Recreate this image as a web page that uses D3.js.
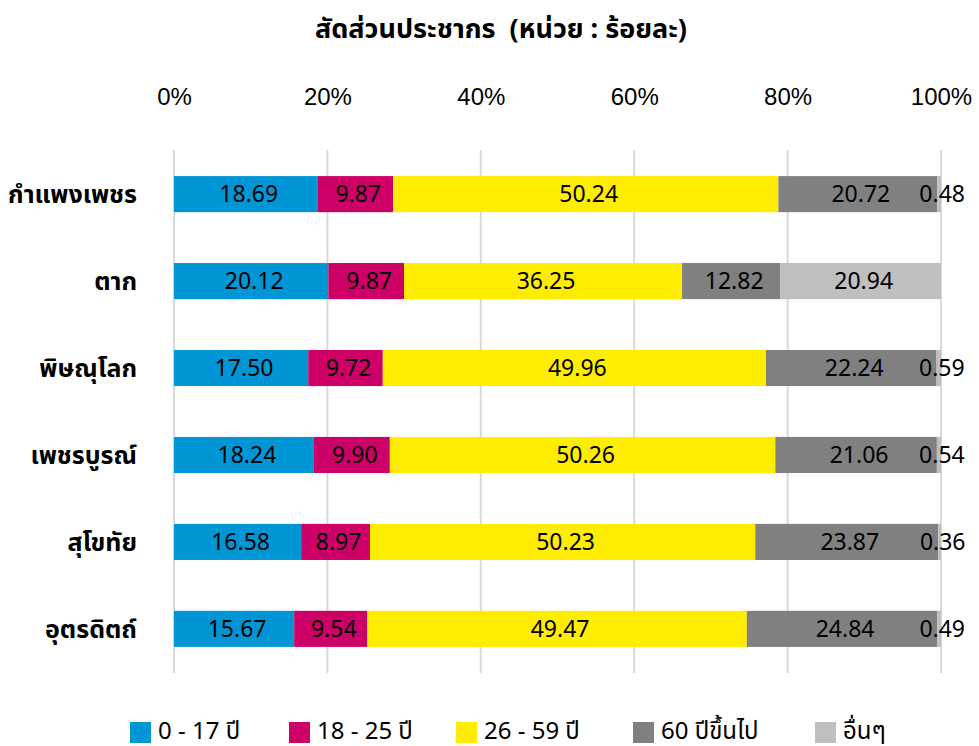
<!DOCTYPE html>
<html>
<head>
<meta charset="utf-8">
<script src="https://cdn.jsdelivr.net/npm/d3@7"></script>
<style>
  body { margin: 0; background: #fff; }
  svg { font-family: "Noto Sans", "Noto Sans Thai", "DejaVu Sans", sans-serif; }
</style>
</head>
<body>
<div id="chart"></div>
<script>
const provinces = ["กำแพงเพชร", "ตาก", "พิษณุโลก", "เพชรบูรณ์", "สุโขทัย", "อุตรดิตถ์"];
const groups = ["0 - 17 ปี", "18 - 25 ปี", "26 - 59 ปี", "60 ปีขึ้นไป", "อื่นๆ"];
const age0to17 = [18.69, 20.12, 17.50, 18.24, 16.58, 15.67];
const age18to25 = [9.87, 9.87, 9.72, 9.90, 8.97, 9.54];
const age26to59 = [50.24, 36.25, 49.96, 50.26, 50.23, 49.47];
const age60up = [20.72, 12.82, 22.24, 21.06, 23.87, 24.84];
const other = [0.48, 20.94, 0.59, 0.54, 0.36, 0.49];
const ticks = [0, 20, 40, 60, 80, 100];
const colors = ["#0096d6", "#cc0066", "#ffed00", "#808080", "#bfbfbf"];

const width = 979, height = 746;
const margin = { top: 150, right: 38, bottom: 73, left: 174 };

const svg = d3.select("#chart").append("svg")
    .attr("width", width)
    .attr("height", height);

const series = [age0to17, age18to25, age26to59, age60up, other];
const rows = provinces.map((p, i) => {
  const r = { province: p };
  groups.forEach((g, j) => r[g] = series[j][i]);
  return r;
});
const stacked = d3.stack().keys(groups)(rows);

const x = d3.scaleLinear().domain([0, 100]).range([margin.left, width - margin.right]);
const y = d3.scaleBand().domain(provinces).range([margin.top, height - margin.bottom]).paddingInner(0.585).paddingOuter(0.3);

// title
svg.append("text")
    .attr("x", 501).attr("y", 38)
    .attr("text-anchor", "middle")
    .attr("font-size", 27).attr("font-weight", "bold")
    .text("สัดส่วนประชากร\u00a0\u00a0(หน่วย : ร้อยละ)");

// gridlines
svg.append("g").selectAll("line")
  .data(ticks).enter().append("line")
    .attr("x1", d => x(d)).attr("x2", d => x(d))
    .attr("y1", margin.top).attr("y2", height - margin.bottom)
    .attr("stroke", "#d9d9d9").attr("stroke-width", 2);

// top axis labels
const ax = svg.append("g")
    .attr("transform", `translate(0,${margin.top - 42})`)
    .call(d3.axisTop(x).tickValues(ticks).tickFormat(d => d + "%").tickSize(0));
ax.select(".domain").remove();
ax.attr("font-family", "'Liberation Sans', Arial, sans-serif").attr("font-size", 24);
ax.selectAll("text").attr("fill", "#000");

// category labels
svg.append("g").selectAll("text")
  .data(provinces).enter().append("text")
    .attr("x", margin.left - 37)
    .attr("y", d => y(d) + y.bandwidth() / 2)
    .attr("dy", "0.35em")
    .attr("text-anchor", "end")
    .attr("font-size", 25).attr("font-weight", "bold")
    .text(d => d);

// bars
const layer = svg.append("g").selectAll("g")
  .data(stacked).enter().append("g")
    .attr("fill", (d, i) => colors[i]);

layer.selectAll("rect")
  .data(d => d).enter().append("rect")
    .attr("x", d => x(d[0]))
    .attr("y", d => y(d.data.province))
    .attr("width", d => x(d[1]) - x(d[0]))
    .attr("height", y.bandwidth());

layer.selectAll("text")
  .data(d => d.map(v => ({ v, key: d.key }))).enter().append("text")
    .attr("x", d => (x(d.v[0]) + x(d.v[1])) / 2 + 3)
    .attr("y", d => y(d.v.data.province) + y.bandwidth() / 2)
    .attr("dy", "0.35em")
    .attr("text-anchor", "middle")
    .attr("font-size", 23)
    .attr("fill", "#000")
    .text(d => d.v.data[d.key].toFixed(2));

// legend
const legendX = [130, 289, 456, 633, 815];
const legend = svg.append("g").selectAll("g")
  .data(groups).enter().append("g")
    .attr("transform", (d, i) => `translate(${legendX[i]},${height - 15})`);
legend.append("rect")
    .attr("x", 0).attr("y", -9)
    .attr("width", 21).attr("height", 21)
    .attr("fill", (d, i) => colors[i]);
legend.append("text")
    .attr("x", 28).attr("y", 0)
    .attr("dy", "0.35em")
    .attr("font-size", 24)
    .text(d => d);
</script>
</body>
</html>
